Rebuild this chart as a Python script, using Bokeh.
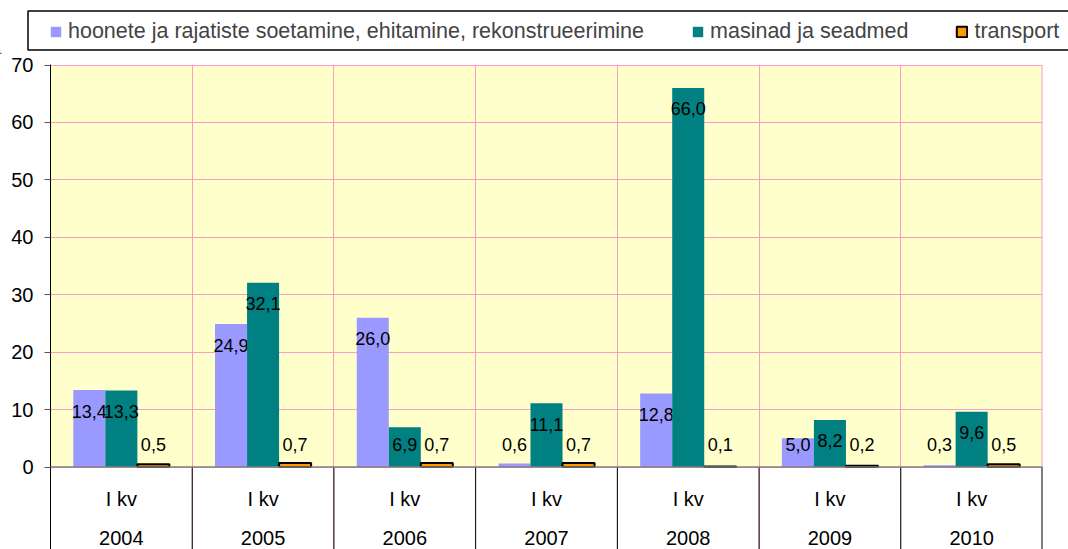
from bokeh.plotting import figure
from bokeh.layouts import column
from bokeh.models import (Range1d, FixedTicker, Legend, LegendItem,
                          ColumnDataSource, Grid, BoxAnnotation, Span)
from bokeh.core.properties import value
from bokeh.embed import file_html
from bokeh.resources import INLINE

# ---- data ----
years = ["2004", "2005", "2006", "2007", "2008", "2009", "2010"]
quarter = "I kv"
series_names = ["hoonete ja rajatiste soetamine, ehitamine, rekonstrueerimine",
                "masinad ja seadmed", "transport"]
hoonete = [13.4, 24.9, 26.0, 0.6, 12.8, 5.0, 0.3]
masinad = [13.3, 32.1, 6.9, 11.1, 66.0, 8.2, 9.6]
transport = [0.5, 0.7, 0.7, 0.7, 0.1, 0.2, 0.5]
y_ticks = [0, 10, 20, 30, 40, 50, 60, 70]

# ---- style / layout ----
FONT = "Liberation Sans"
PINK = "#FF99CC"
COLORS = ["#9999FF", "#008080", "#FF9900"]
LINE_COLORS = [None, None, "black"]
LINE_WIDTHS = [0, 0, 2]
n = len(years)
centers = [i + 0.5 for i in range(n)]
bounds = list(range(n + 1))
W = 0.226
offsets = [-W, 0.0, W]
Y_MAX = y_ticks[-1]
PPU = 402.0 / Y_MAX            # pixels per unit in the value area
TOTAL_W, TOTAL_H = 1068, 549
LEG_H = 54                     # height of the legend strip
MAIN_H = TOTAL_H - LEG_H
FRAME_TOP = 64 - LEG_H         # inside main figure
FRAME_H = MAIN_H - FRAME_TOP
y_top = Y_MAX + 0.5 / PPU
y_bot = y_top - FRAME_H / PPU


def bar_style(k):
    kw = dict(fill_color=COLORS[k])
    if LINE_COLORS[k]:
        kw.update(line_color=LINE_COLORS[k], line_width=LINE_WIDTHS[k])
    else:
        kw.update(line_color=None)
    return kw


# ================= legend strip =================
lf = figure(width=TOTAL_W, height=LEG_H, output_backend="svg", toolbar_location=None,
            x_range=Range1d(0, TOTAL_W), y_range=Range1d(0, LEG_H),
            x_axis_type=None, y_axis_type=None, min_border=0,
            background_fill_color="white", border_fill_color="white")
if "frame_align" in lf.properties():
    lf.frame_align = False
lf.outline_line_color = None
lf.xgrid.visible = False
lf.ygrid.visible = False
# legend frame (open to the right, as in the original)
lf.quad(left=[27.5], right=[TOTAL_W + 40], bottom=[LEG_H - 49.5], top=[LEG_H - 10.5],
        fill_color="white", line_color="black", line_width=1.5)
leg_rs = [lf.vbar(x=[-1000], top=[1], width=1, **bar_style(k)) for k in range(3)]
legend = Legend(items=[LegendItem(label=nm, renderers=[r])
                       for nm, r in zip(series_names, leg_rs)],
                orientation="horizontal", location=(49, 10), padding=8,
                spacing=47, glyph_width=13, glyph_height=13, label_standoff=6,
                label_text_font=FONT, label_text_font_size="21.5px",
                border_line_color=None, background_fill_alpha=0.0, margin=0)
lf.add_layout(legend)

# ================= main chart =================
p = figure(width=TOTAL_W, height=MAIN_H, output_backend="svg", toolbar_location=None,
           x_range=Range1d(0, n), y_range=Range1d(y_bot, y_top), x_axis_type=None,
           min_border_left=50, min_border_right=26, min_border_top=FRAME_TOP,
           min_border_bottom=0, background_fill_color="white",
           border_fill_color="white")
if "frame_align" in p.properties():
    p.frame_align = False
p.outline_line_color = None

# plot-area background (value area only)
p.add_layout(BoxAnnotation(bottom=0, top=Y_MAX, fill_color="#FFFFCC", fill_alpha=1.0,
                           line_color=None, level="image"))

# grids
p.ygrid.ticker = FixedTicker(ticks=y_ticks)
p.ygrid.grid_line_color = PINK
xg = Grid(dimension=0, ticker=FixedTicker(ticks=bounds), grid_line_color=PINK)
p.add_layout(xg)

# right edge of value area (pink) and category separators below the axis (black)
p.segment(x0=[n], y0=[0], x1=[n], y1=[Y_MAX], line_color=PINK, line_width=2)
p.segment(x0=bounds, y0=[y_bot] * len(bounds), x1=bounds, y1=[0] * len(bounds),
          line_color="black", line_width=[1] * n + [2])

# y axis
ya = p.yaxis[0]
ya.ticker = FixedTicker(ticks=y_ticks)
ya.axis_line_color = "black"
ya.major_tick_out = 6
ya.major_tick_in = 0
ya.minor_tick_out = 0
ya.minor_tick_in = 0
ya.major_tick_line_color = "#555555"
ya.major_label_standoff = 11
ya.major_label_text_font = FONT
ya.major_label_text_font_size = "20px"
ya.major_label_text_color = "black"

# bars + value labels
all_series = [hoonete, masinad, transport]
for k, vals in enumerate(all_series):
    xs = [c + offsets[k] for c in centers]
    p.vbar(x=xs, top=vals, width=W, **bar_style(k))
    ly = [max(v - 21 / PPU, 4.0) for v in vals]
    txt = [f"{v:.1f}".replace(".", ",") for v in vals]
    src = ColumnDataSource(dict(x=xs, y=ly, t=txt))
    p.text(x="x", y="y", text="t", source=src, text_font=value(FONT),
           text_font_size="18px", text_align="center", text_baseline="middle",
           text_color="black")

# category axis line at zero
p.add_layout(Span(location=0, dimension="width", line_color="#808080", line_width=1.5))

# two-level category labels
p.text(x=centers, y=[0] * n, text=[quarter] * n, y_offset=32, text_font=value(FONT),
       text_font_size="20px", text_align="center", text_baseline="middle",
       text_color="black")
p.text(x=centers, y=[0] * n, text=years, y_offset=71, text_font=value(FONT),
       text_font_size="20px", text_align="center", text_baseline="middle",
       text_color="black")

layout = column(lf, p, spacing=0)
open("out.html", "w").write(file_html(layout, INLINE))
